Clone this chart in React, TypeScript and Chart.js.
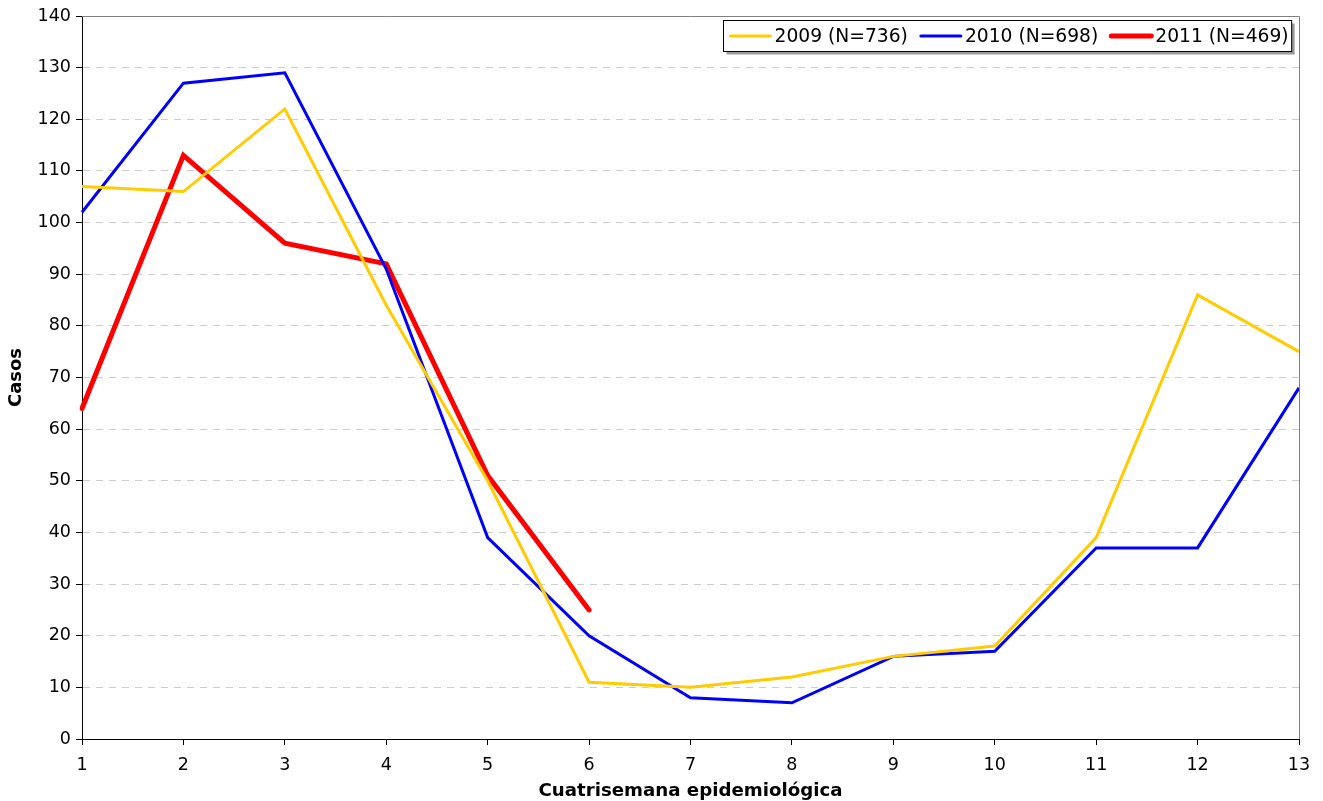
import React, { useEffect, useRef } from 'react';
import { Chart, registerables } from 'chart.js';

Chart.register(...registerables);

const categories = ['1', '2', '3', '4', '5', '6', '7', '8', '9', '10', '11', '12', '13'];
const series2009 = [107, 106, 122, 84, 50, 11, 10, 12, 16, 18, 39, 86, 75];
const series2010 = [102, 127, 129, 91, 39, 20, 8, 7, 16, 17, 37, 37, 68];
const series2011 = [64, 113, 96, 92, 51, 25];
const seriesLabels = ['2009 (N=736)', '2010 (N=698)', '2011 (N=469)'];
const yMin = 0;
const yMax = 140;
const yStep = 10;

const FONT = "'DejaVu Sans', Verdana, sans-serif";

const frameAndLegend = {
  id: 'frameAndLegend',
  afterDraw(chart: any) {
    const { ctx, chartArea } = chart;
    ctx.save();
    // gray frame top & right
    ctx.strokeStyle = '#808080';
    ctx.lineWidth = 1;
    ctx.beginPath();
    ctx.moveTo(chartArea.left, chartArea.top + 0.5);
    ctx.lineTo(chartArea.right + 0.5, chartArea.top + 0.5);
    ctx.lineTo(chartArea.right + 0.5, chartArea.bottom);
    ctx.stroke();

    // legend
    ctx.font = `18.7px ${FONT}`;
    const lineLen = 42;
    const gapLT = 3;
    const gapItems = 12;
    const padL = 6;
    const padR = 3;
    const items = chart.data.datasets.map((d: any) => ({
      label: d.label,
      color: d.borderColor,
      width: d.borderWidth,
      tw: ctx.measureText(d.label).width,
    }));
    let total = padL + padR;
    items.forEach((it: any, i: number) => {
      total += lineLen + gapLT + it.tw + (i < items.length - 1 ? gapItems : 0);
    });
    const boxH = 31;
    const bx = Math.round(chartArea.right - 8 - total) + 0.5;
    const by = chartArea.top + 4.5;
    // shadow
    ctx.fillStyle = '#9a9a9a';
    ctx.fillRect(bx + 3, by + 3, total, boxH);
    ctx.fillStyle = '#ffffff';
    ctx.fillRect(bx, by, total, boxH);
    ctx.strokeStyle = '#000000';
    ctx.lineWidth = 1;
    ctx.strokeRect(bx, by, total, boxH);
    let x = bx + padL;
    const cy = by + boxH / 2;
    items.forEach((it: any) => {
      ctx.strokeStyle = it.color;
      ctx.lineWidth = it.width;
      ctx.lineCap = 'round';
      ctx.beginPath();
      ctx.moveTo(x + 1, cy);
      ctx.lineTo(x + lineLen - 1, cy);
      ctx.stroke();
      x += lineLen + gapLT;
      ctx.fillStyle = '#000000';
      ctx.textBaseline = 'middle';
      ctx.textAlign = 'left';
      ctx.fillText(it.label, x, cy + 1);
      x += it.tw + gapItems;
    });
    ctx.restore();
  },
};

export default function App() {
  const ref = useRef<HTMLCanvasElement | null>(null);
  useEffect(() => {
    document.body.style.margin = '0';
    if (!ref.current) return;
    const chart = new Chart(ref.current, {
      type: 'line',
      data: {
        labels: categories,
        datasets: [
          { label: seriesLabels[0], data: series2009, borderColor: '#FFCC00', backgroundColor: '#FFCC00', borderWidth: 3, pointRadius: 0, tension: 0, fill: false },
          { label: seriesLabels[1], data: series2010, borderColor: '#0000FF', backgroundColor: '#0000FF', borderWidth: 3, pointRadius: 0, tension: 0, fill: false },
          { label: seriesLabels[2], data: series2011, borderColor: '#FF0000', backgroundColor: '#FF0000', borderWidth: 5, pointRadius: 0, tension: 0, fill: false, borderCapStyle: 'round' },
        ],
      },
      options: {
        responsive: false,
        animation: false,
        layout: { padding: { top: 16, right: 24, left: 0, bottom: 0 } },
        plugins: { legend: { display: false }, tooltip: { enabled: false } },
        scales: {
          x: {
            type: 'category',
            offset: false,
            grid: { display: true, drawOnChartArea: false, drawTicks: true, tickLength: 6, tickColor: '#000000' },
            border: { display: true, color: '#000000', width: 1 },
            ticks: { color: '#000000', font: { family: FONT, size: 17.5 }, padding: 10, maxRotation: 0, autoSkip: false },
            title: { display: true, text: 'Cuatrisemana epidemiológica', color: '#000000', font: { family: FONT, size: 18.2, weight: 'bold' }, padding: { top: 0, bottom: -1 } },
            afterFit: (s: any) => { s.height = 62; },
          },
          y: {
            min: yMin,
            max: yMax,
            grid: { display: true, drawOnChartArea: true, color: '#cccccc', lineWidth: 1, drawTicks: true, tickLength: 6, tickColor: '#000000' },
            border: { display: true, color: '#000000', width: 1, dash: [7, 6] },
            ticks: { stepSize: yStep, color: '#000000', font: { family: FONT, size: 17.5 }, padding: 5 },
            title: { display: true, text: 'Casos', color: '#000000', font: { family: FONT, size: 18, weight: 'bold' }, padding: { top: 6, bottom: 0 } },
            afterFit: (s: any) => { s.width = 82; },
          },
        },
      },
      plugins: [frameAndLegend],
    });
    return () => chart.destroy();
  }, []);
  return (
    <div style={{ width: 1323, height: 801 }}>
      <canvas ref={ref} width={1323} height={801} style={{ display: 'block' }} />
    </div>
  );
}
